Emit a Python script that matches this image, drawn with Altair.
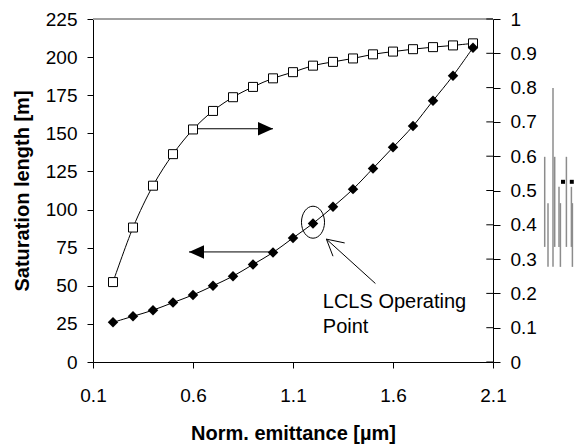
import altair as alt
import pandas as pd

# ---------------- data ----------------
emittance = [0.2, 0.3, 0.4, 0.5, 0.6, 0.7, 0.8, 0.9, 1.0, 1.1,
             1.2, 1.3, 1.4, 1.5, 1.6, 1.7, 1.8, 1.9, 2.0]
sat_length = [26, 30, 34, 39, 44, 50, 56.3, 64, 71.8, 81.4,
              90.9, 101.8, 113.4, 127, 140.8, 154.8, 171.4, 187.8, 206.2]
right_series = [0.233, 0.392, 0.514, 0.606, 0.678, 0.732, 0.772, 0.802, 0.827, 0.845,
                0.864, 0.875, 0.885, 0.897, 0.905, 0.912, 0.918, 0.923, 0.929]

x_ticks = [0.1, 0.6, 1.1, 1.6, 2.1]
left_ticks = [0, 25, 50, 75, 100, 125, 150, 175, 200, 225]
right_ticks = [0, 0.1, 0.2, 0.3, 0.4, 0.5, 0.6, 0.7, 0.8, 0.9, 1]

# annotation geometry (data units of x / left axis)
arrow_x1 = [0.62, 0.58]
arrow_x2 = [1.0, 1.0]
arrow_y = [153, 72.2]
ptr_x1 = [1.512, 1.267, 1.267]
ptr_y1 = [51.5, 80.6, 80.6]
ptr_x2 = [1.267, 1.3585, 1.30]
ptr_y2 = [80.6, 78.1, 69.4]
circle_x = [1.2]
circle_y = [91.7]
label_text = ["LCLS Operating", "Point"]
label_x = [1.249, 1.249]
label_y = [35.6, 19.2]

# grey scan-artefact at the right edge of the reference picture
art_x = [2.3585, 2.375, 2.40, 2.4085, 2.43, 2.437, 2.467, 2.492, 2.497]
art_y1 = [134.6, 104.2, 179.7, 134.6, 114.9, 104.2, 134.6, 114.9, 104.2]
art_y2 = [75.5, 62.4, 62.4, 75.5, 75.5, 62.4, 75.5, 75.5, 62.4]
dot_x = [2.45, 2.494]
dot_y = [118.2, 118.2]

FONT = "Liberation Sans"

main_df = pd.DataFrame({"x": emittance, "y": sat_length})
right_df = pd.DataFrame({"x": emittance, "y": right_series})
arrow_df = pd.DataFrame({"x": arrow_x1, "x2": arrow_x2, "y": arrow_y, "y2": arrow_y})
ptr_df = pd.DataFrame({"x": ptr_x1, "y": ptr_y1, "x2": ptr_x2, "y2": ptr_y2})
head_r_df = pd.DataFrame({"x": [arrow_x2[0]], "y": [arrow_y[0]]})
head_l_df = pd.DataFrame({"x": [arrow_x1[1]], "y": [arrow_y[1]]})
circle_df = pd.DataFrame({"x": circle_x, "y": circle_y})
text_df = pd.DataFrame({"x": label_x, "y": label_y, "t": label_text})
rtick_df = pd.DataFrame({"y": right_ticks})
art_df = pd.DataFrame({"x": art_x, "y": art_y1, "y2": art_y2})
dot_df = pd.DataFrame({"x": dot_x, "y": dot_y})

xscale = alt.Scale(domain=[0.1, 2.1], nice=False, zero=False)
lscale = alt.Scale(domain=[0, 225], nice=False, zero=False)
rscale = alt.Scale(domain=[0, 1], nice=False, zero=False)

x_axis = alt.Axis(values=x_ticks, format=".1f", title="Norm. emittance [µm]",
                  tickSize=6, labelPadding=33, labelBaseline="alphabetic",
                  labelFlush=False, titleY=77, titleBaseline="alphabetic")
l_axis = alt.Axis(values=left_ticks, title="Saturation length [m]", orient="left",
                  tickSize=6, labelPadding=10, labelFlush=False, titleX=-65,
                  titleY=171.5, titleBaseline="alphabetic", titleAngle=-90)
r_axis = alt.Axis(values=right_ticks, format="~g", title=None, orient="right",
                  tickSize=7, labelPadding=10, labelFlush=False)

X = alt.X("x:Q", scale=xscale, axis=x_axis)
YL = alt.Y("y:Q", scale=lscale, axis=l_axis)
YR = alt.Y("y:Q", scale=rscale, axis=r_axis)

# ---- left (saturation length) group ----
main_line = alt.Chart(main_df).mark_line(color="black", strokeWidth=1,
                                          interpolate="cardinal").encode(x=X, y=YL)
main_pts = alt.Chart(main_df).mark_point(shape="diamond", filled=True, color="black",
                                          size=110, opacity=1).encode(x=X, y=YL)
arrows = alt.Chart(arrow_df).mark_rule(color="black", strokeWidth=1).encode(
    x=X, y=YL, x2="x2:Q", y2="y2:Q")
pointer = alt.Chart(ptr_df).mark_rule(color="black", strokeWidth=1).encode(
    x=X, y=YL, x2="x2:Q", y2="y2:Q")
head_r = alt.Chart(head_r_df).mark_point(
    shape="M 0,0 L -2,-0.9 L -2,0.9 Z", size=225, filled=True, color="black",
    opacity=1).encode(x=X, y=YL)
head_l = alt.Chart(head_l_df).mark_point(
    shape="M 0,0 L 2,-0.9 L 2,0.9 Z", size=225, filled=True, color="black",
    opacity=1).encode(x=X, y=YL)
circle = alt.Chart(circle_df).mark_point(
    shape="M -0.72,0 A 0.72,1 0 1,1 0.72,0 A 0.72,1 0 1,1 -0.72,0 Z",
    size=1024, filled=False, stroke="black", strokeWidth=1, opacity=1).encode(x=X, y=YL)
labels = alt.Chart(text_df).mark_text(align="left", baseline="alphabetic", font=FONT,
                                       fontSize=20, color="black").encode(
    x=X, y=YL, text="t:N")
artefact = alt.Chart(art_df).mark_rule(color="#8c8c8c", strokeWidth=1.5).encode(
    x=X, y=YL, y2="y2:Q")
dots = alt.Chart(dot_df).mark_point(shape="square", filled=True, color="black",
                                     size=16, opacity=1).encode(x=X, y=YL)

left_group = alt.layer(main_line, arrows, pointer, head_r, head_l, main_pts, circle,
                       labels, artefact, dots)

# ---- right group ----
r_line = alt.Chart(right_df).mark_line(color="black", strokeWidth=1,
                                        interpolate="cardinal").encode(x=X, y=YR)
r_pts = alt.Chart(right_df).mark_square(size=81, fill="white", stroke="black",
                                         strokeWidth=1, opacity=1).encode(x=X, y=YR)
r_inner_ticks = alt.Chart(rtick_df).mark_rule(color="black", strokeWidth=1).encode(
    x=alt.value(393.3), x2=alt.value(400), y=YR)
top_border = alt.Chart(rtick_df).mark_rule(color="#a0a0a0", strokeWidth=1).encode(
    x=alt.value(0), x2=alt.value(400), y=alt.value(0))

right_group = alt.layer(top_border, r_inner_ticks, r_line, r_pts)

chart = alt.layer(right_group, left_group).resolve_scale(y="independent").properties(
    width=400, height=343,
    padding={"left": 85, "top": 11, "right": 81, "bottom": 83},
    autosize=alt.AutoSizeParams(type="none"),
).configure_view(stroke=None).configure_axis(
    grid=False, domainColor="black", tickColor="black", labelColor="black",
    titleColor="black", labelFont=FONT, titleFont=FONT, labelFontSize=19,
    titleFontSize=20, titleFontWeight="bold", domainWidth=1, tickWidth=1,
)

chart.save("out.html", embed_options={"renderer": "svg", "actions": False})
